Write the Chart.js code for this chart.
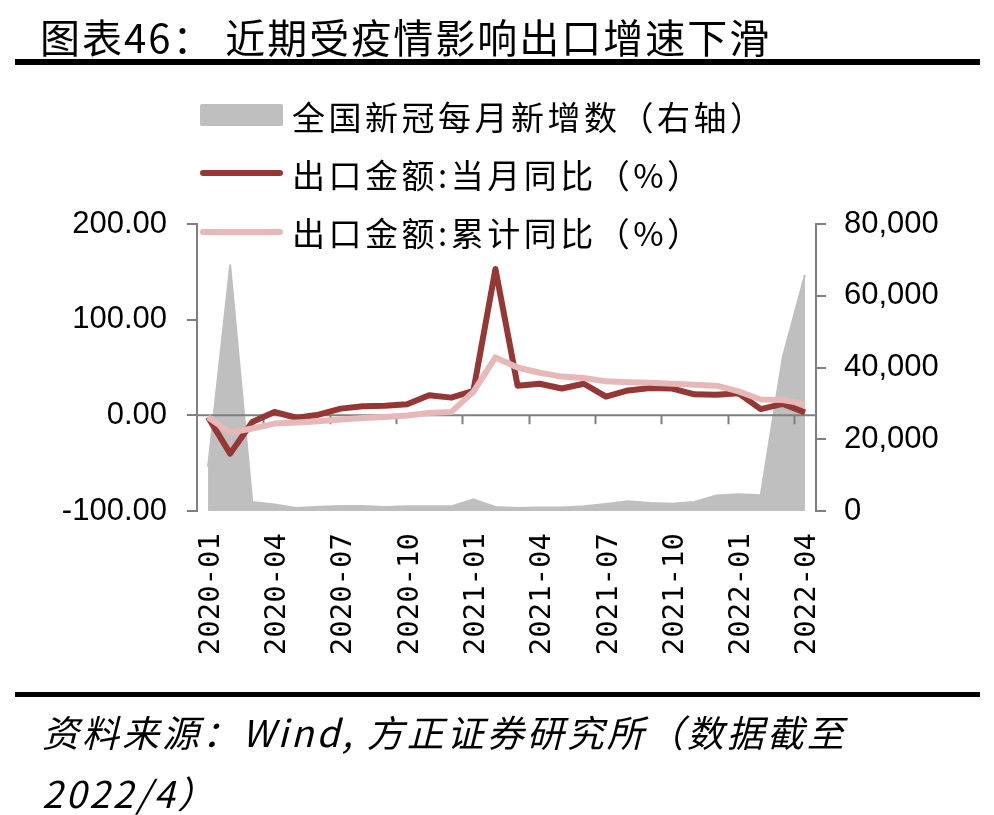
<!DOCTYPE html>
<html>
<head>
<meta charset="utf-8">
<script src="https://cdn.jsdelivr.net/npm/chart.js"></script>
<style>
  html, body { margin:0; padding:0; background:#fff; }
  body { width:994px; height:815px; position:relative; overflow:hidden; font-family:"Noto Sans CJK SC", sans-serif; color:#000; }
  #c { position:absolute; left:0; top:0; }
  .abs { position:absolute; white-space:nowrap; }
  #title { left:40px; top:12px; font-size:40px; line-height:48px; letter-spacing:2px; }
  .rule { position:absolute; left:15px; width:965px; background:#000; }
  .lg { position:absolute; left:292px; font-size:33px; line-height:40px; letter-spacing:3.5px; }
  .sw { position:absolute; left:200px; width:83px; }
  #foot { left:42px; top:701px; font-size:37px; line-height:61px; font-style:italic; letter-spacing:3px; }
</style>
</head>
<body>
<canvas id="c" width="994" height="815"></canvas>
<div id="title" class="abs">图表46：&nbsp;近期受疫情影响出口增速下滑</div>
<div class="rule" style="top:59px;height:6px;"></div>

<div class="sw" style="top:104px;height:22px;background:#bfbfbf;border-radius:2px;"></div>
<div class="lg" style="top:96px;">全国新冠每月新增数（右轴）</div>
<div class="sw" style="top:170px;height:6px;background:#953735;border-radius:3px;"></div>
<div class="lg" style="top:154px;">出口金额:当月同比（%）</div>
<div class="sw" style="top:229px;height:6px;background:#e6b9b8;border-radius:3px;"></div>
<div class="lg" style="top:212px;">出口金额:累计同比（%）</div>

<div class="rule" style="top:692px;height:5px;"></div>
<div id="foot" class="abs">资料来源：Wind, 方正证券研究所（数据截至<br>2022/4）</div>

<script>
const categories = [
  "2020-01","2020-02","2020-03","2020-04","2020-05","2020-06","2020-07","2020-08","2020-09","2020-10","2020-11","2020-12",
  "2021-01","2021-02","2021-03","2021-04","2021-05","2021-06","2021-07","2021-08","2021-09","2021-10","2021-11","2021-12",
  "2022-01","2022-02","2022-03","2022-04"
];
const newCases = [
  12300, 68500, 2500, 1800, 850, 1200, 1400, 1400, 1100, 1300, 1300, 1300,
  3200, 1100, 850, 950, 1000, 1300, 1950, 2700, 2250, 2050, 2500, 4300,
  4650, 4400, 43000, 65800
];
const exportMonthlyYoY = [
  -2, -40, -7, 3.5, -2.5, 0.7, 7, 9.4, 10, 11.5, 21, 18.5,
  25.5, 153, 31, 33, 28, 33, 19.5, 26, 28.5, 28, 22, 21.5,
  23, 6.5, 12, 3
];
const exportCumulativeYoY = [
  -2, -18, -13.8, -8.6, -7.5, -6.2, -4.4, -2.7, -1.7, -0.2, 2.5, 3.6,
  24.5, 60.5, 50, 44.5, 40.5, 39, 35.5, 34.5, 34, 33, 32, 31,
  25, 16.5, 16, 12
];
const leftTicks = [-100, 0, 100, 200];
const rightTicks = [0, 20000, 40000, 60000, 80000];
const labelEvery = 3;

const AXIS = '#808080';

const zeroLinePlugin = {
  id: 'zeroLine',
  afterDatasetDraw(chart, args) {
    if (args.index !== 0) return;
    const {ctx, chartArea, scales} = chart;
    const y0 = scales.y.getPixelForValue(0);
    const xs = scales.x;
    const half = (xs.getPixelForValue(1) - xs.getPixelForValue(0)) / 2;
    ctx.save();
    ctx.strokeStyle = AXIS;
    ctx.lineWidth = 2;
    ctx.beginPath();
    ctx.moveTo(chartArea.left, y0);
    ctx.lineTo(chartArea.right, y0);
    for (let i = labelEvery; i < categories.length; i += labelEvery) {
      const px = Math.round(xs.getPixelForValue(i) - half) + 0.5;
      ctx.moveTo(px, y0);
      ctx.lineTo(px, y0 + 9);
    }
    ctx.stroke();
    ctx.restore();
  }
};

new Chart(document.getElementById('c'), {
  type: 'line',
  data: {
    labels: categories,
    datasets: [
      {
        label: '全国新冠每月新增数（右轴）',
        data: newCases,
        yAxisID: 'y1',
        backgroundColor: '#bfbfbf',
        borderColor: '#bfbfbf',
        borderWidth: 2,
        borderJoinStyle: 'round',
        fill: 'origin',
        pointRadius: 0,
        tension: 0,
        order: 3
      },
      {
        label: '出口金额:当月同比（%）',
        data: exportMonthlyYoY,
        yAxisID: 'y',
        borderColor: '#953735',
        borderWidth: 6,
        borderJoinStyle: 'round',
        fill: false,
        pointRadius: 0,
        tension: 0,
        order: 2
      },
      {
        label: '出口金额:累计同比（%）',
        data: exportCumulativeYoY,
        yAxisID: 'y',
        borderColor: '#e6b9b8',
        borderWidth: 6,
        borderJoinStyle: 'round',
        fill: false,
        pointRadius: 0,
        tension: 0,
        order: 1
      }
    ]
  },
  options: {
    responsive: false,
    animation: false,
    layout: { padding: { top: 224, left: 0, right: 0, bottom: 0 } },
    plugins: { legend: { display: false }, tooltip: { enabled: false }, title: { display: false } },
    scales: {
      x: {
        type: 'category',
        offset: true,
        grid: { display: false, drawTicks: false, offset: true },
        border: { display: false },
        ticks: {
          autoSkip: false,
          minRotation: 90,
          maxRotation: 90,
          padding: 22,
          labelOffset: 3,
          color: '#000',
          font: { family: '"DejaVu Sans Mono", monospace', size: 29 },
          callback: (v, i) => (i % labelEvery === 0 ? categories[i] : '')
        },
        afterFit: s => { s.height = 304; }
      },
      y: {
        position: 'left',
        min: leftTicks[0],
        max: leftTicks[leftTicks.length - 1],
        afterBuildTicks: s => { s.ticks = leftTicks.map(v => ({ value: v })); },
        grid: { drawOnChartArea: false, drawTicks: true, tickLength: 10, color: AXIS, lineWidth: 2 },
        border: { display: true, color: AXIS, width: 2 },
        ticks: {
          padding: 20,
          color: '#000',
          font: { family: '"Liberation Sans", Arial, sans-serif', size: 31 },
          callback: v => Number(v).toFixed(2)
        },
        afterFit: s => { s.width = 197; }
      },
      y1: {
        position: 'right',
        min: rightTicks[0],
        max: rightTicks[rightTicks.length - 1],
        afterBuildTicks: s => { s.ticks = rightTicks.map(v => ({ value: v })); },
        grid: { drawOnChartArea: false, drawTicks: true, tickLength: 10, color: AXIS, lineWidth: 2 },
        border: { display: true, color: AXIS, width: 2 },
        ticks: {
          padding: 18,
          color: '#000',
          font: { family: '"Liberation Sans", Arial, sans-serif', size: 31 },
          callback: v => Number(v).toLocaleString('en-US')
        },
        afterFit: s => { s.width = 178; }
      }
    }
  },
  plugins: [zeroLinePlugin]
});
</script>
</body>
</html>
